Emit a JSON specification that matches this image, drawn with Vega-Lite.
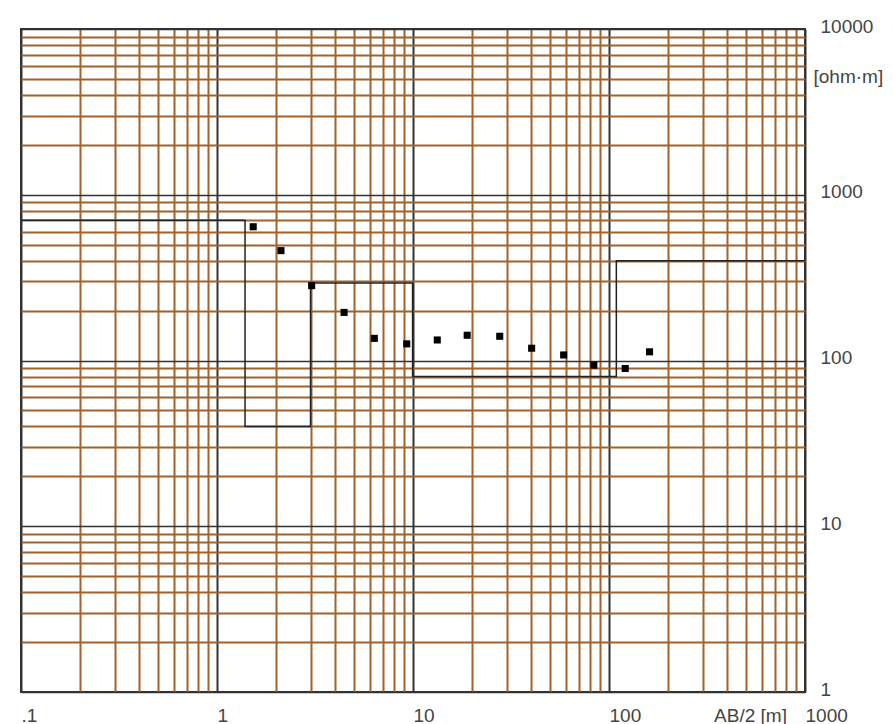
{
  "$schema": "https://vega.github.io/schema/vega-lite/v6.json",
  "width": 784,
  "height": 663,
  "autosize": "none",
  "padding": {"left": 21, "top": 29, "right": 88, "bottom": 32},
  "background": "white",
  "config": {
    "view": {"stroke": "#333333", "strokeWidth": 2},
    "axis": {"labelFont": "Liberation Sans", "titleFont": "Liberation Sans", "labelColor": "#444444", "titleColor": "#444444", "labelFontSize": 19, "titleFontSize": 19, "titleFontWeight": "normal", "domain": false, "ticks": false, "tickSize": 0}
  },
  "datasets": {
    "model": [
      {"i": 1, "ab": 0.1, "rho": 702},
      {"i": 2, "ab": 1.39, "rho": 702},
      {"i": 3, "ab": 1.39, "rho": 40},
      {"i": 4, "ab": 3.0, "rho": 40},
      {"i": 5, "ab": 3.0, "rho": 293},
      {"i": 6, "ab": 9.95, "rho": 293},
      {"i": 7, "ab": 9.95, "rho": 80},
      {"i": 8, "ab": 109, "rho": 80},
      {"i": 9, "ab": 109, "rho": 400},
      {"i": 10, "ab": 1000, "rho": 400}
    ],
    "obs": [
      {"ab": 1.53, "rho": 641},
      {"ab": 2.12, "rho": 460},
      {"ab": 3.04, "rho": 283},
      {"ab": 4.45, "rho": 195},
      {"ab": 6.35, "rho": 136},
      {"ab": 9.29, "rho": 126},
      {"ab": 13.3, "rho": 133},
      {"ab": 18.9, "rho": 142},
      {"ab": 27.7, "rho": 140},
      {"ab": 40.3, "rho": 118.6},
      {"ab": 58.7, "rho": 108},
      {"ab": 83.7, "rho": 93.7},
      {"ab": 121, "rho": 89.5},
      {"ab": 161, "rho": 112.8}
    ]
  },
  "layer": [
    {
      "data": {"name": "model"},
      "mark": {"type": "line", "color": "#222222", "strokeWidth": 1.5, "clip": true},
      "encoding": {
        "x": {"field": "ab", "type": "quantitative",
          "scale": {"type": "log", "domain": [0.1, 1000], "nice": false},
          "axis": {"orient": "bottom", "values": [0.2,0.3,0.4,0.5,0.6,0.7,0.8,0.9,2,3,4,5,6,7,8,9,20,30,40,50,60,70,80,90,200,300,400,500,600,700,800,900],
            "grid": true, "gridColor": "#a2622b", "gridWidth": 2, "labels": false, "title": null}},
        "y": {"field": "rho", "type": "quantitative",
          "scale": {"type": "log", "domain": [1, 10000], "nice": false},
          "axis": {"orient": "right", "values": [2,3,4,5,6,7,8,9,20,30,40,50,60,70,80,90,200,300,400,500,600,700,800,900,2000,3000,4000,5000,6000,7000,8000,9000],
            "grid": true, "gridColor": "#a2622b", "gridWidth": 2, "labels": false, "title": null}},
        "order": {"field": "i", "type": "quantitative"}
      }
    },
    {
      "data": {"name": "obs"},
      "mark": {"type": "point", "shape": "square", "filled": true, "color": "#000000", "size": 50, "opacity": 1},
      "encoding": {
        "x": {"field": "ab", "type": "quantitative",
          "axis": {"orient": "bottom", "values": [0.1, 1, 10, 100, 1000], "grid": true, "gridColor": "#333333", "gridWidth": 2,
            "labelExpr": "datum.value < 0.5 ? '.1' : format(datum.value, 'd')",
            "labelAlign": "left", "labelBaseline": "middle", "labelPadding": 23, "labelFlush": false, "labelOverlap": false,
            "title": "AB/2 [m]", "titleX": 729, "titleY": 23, "titleAlign": "center", "titleBaseline": "middle"}},
        "y": {"field": "rho", "type": "quantitative",
          "axis": {"orient": "right", "values": [1, 10, 100, 1000, 10000], "grid": true, "gridColor": "#333333", "gridWidth": 1.5,
            "format": "d", "labelAlign": "left", "labelBaseline": "middle", "labelPadding": 15, "labelOffset": -3, "labelFlush": false, "labelOverlap": false,
            "title": "[ohm·m]", "titleAngle": 0, "titleX": 8, "titleY": 47, "titleAlign": "left", "titleBaseline": "middle"}}
      }
    }
  ],
  "resolve": {"axis": {"x": "independent", "y": "independent"}}
}
